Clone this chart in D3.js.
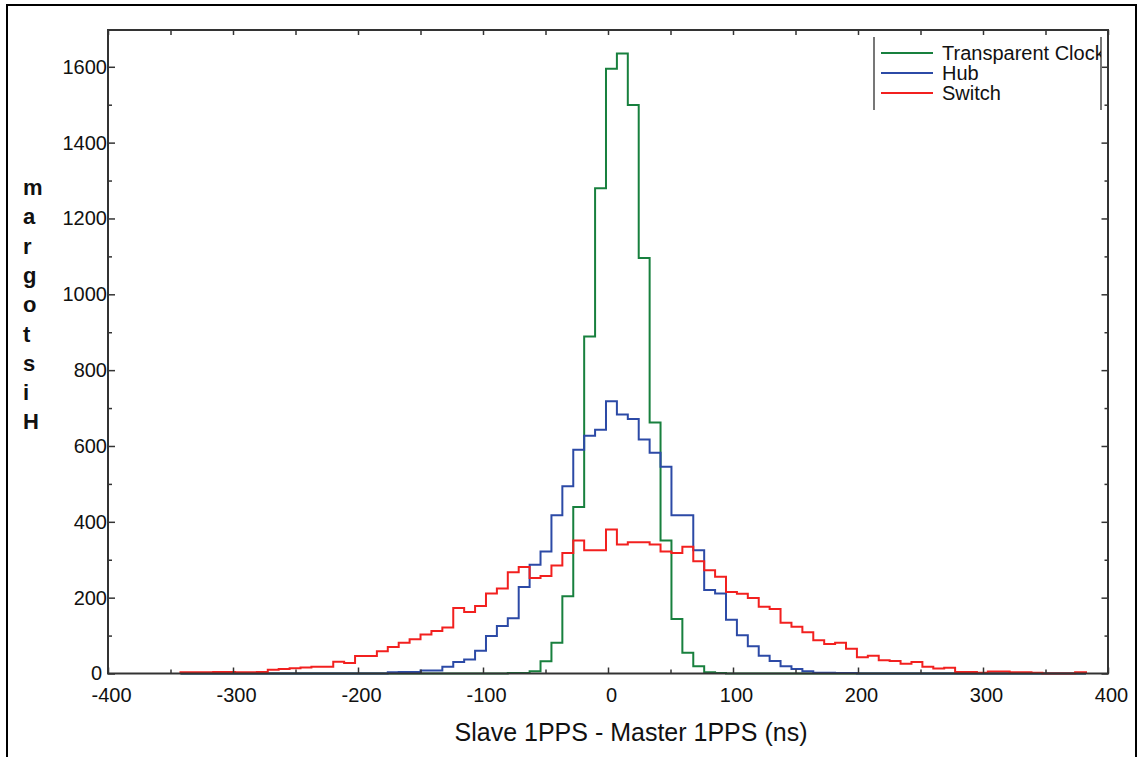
<!DOCTYPE html>
<html>
<head>
<meta charset="utf-8">
<script src="https://cdn.jsdelivr.net/npm/d3@7"></script>
<style>
  body { margin: 0; background: #fff; }
</style>
</head>
<body>
<svg id="hist" width="1141" height="757"></svg>
<script>
// histogram bins (ns) - the three series share the same bins
const binStart = -342.0;
const binWidth = 8.728;

// counts per bin
const clockCounts = [
  0, 0, 0, 0, 0, 0, 0, 0, 0, 0,
  0, 0, 0, 0, 0, 0, 0, 0, 0, 0,
  0, 0, 0, 0, 0, 0, 0, 0, 0, 0,
  1, 1, 6, 32, 81, 204, 439, 889, 1280, 1595,
  1635, 1499, 1096, 662, 351, 144, 55, 19, 3, 1,
  0, 0, 0, 0, 0, 0, 0, 0, 0, 0,
  0, 0, 0, 0, 0, 0, 0, 0, 0, 0,
  0, 0, 0, 0, 0, 0, 0, 0, 0, 0,
  0, 0, 0
];
const hubCounts = [
  0, 0, 0, 0, 0, 0, 0, 0, 0, 0,
  0, 0, 0, 0, 0, 0, 0, 0, 0, 3,
  4, 4, 8, 8, 18, 30, 37, 60, 99, 125,
  146, 228, 287, 322, 417, 494, 590, 627, 643, 718,
  683, 671, 617, 582, 545, 417, 417, 325, 220, 211,
  142, 101, 72, 47, 33, 19, 12, 6, 2, 2,
  1, 1, 0, 0, 0, 0, 0, 0, 0, 0,
  0, 0, 0, 0, 0, 0, 0, 0, 0, 0,
  0, 0, 0
];
const switchCounts = [
  3, 3, 3, 4, 4, 3, 3, 4, 10, 12,
  14, 16, 18, 18, 31, 28, 46, 46, 59, 70,
  81, 90, 103, 112, 121, 173, 162, 178, 211, 224,
  267, 281, 252, 257, 285, 318, 351, 325, 325, 380,
  340, 346, 346, 340, 322, 318, 334, 296, 272, 255,
  215, 210, 199, 176, 170, 134, 123, 109, 88, 78,
  81, 65, 43, 47, 35, 33, 26, 30, 18, 13,
  15, 4, 4, 2, 5, 5, 3, 3, 2, 0,
  0, 0, 3
];

const seriesNames = ["Transparent Clock", "Hub", "Switch"];
const seriesColors = ["#18803e", "#2c4aa6", "#f2201f"];

const xTicks = [-400, -300, -200, -100, 0, 100, 200, 300, 400];
const xMinorTicks = [-350, -250, -150, -50, 50, 150, 250, 350];
const yTicks = [0, 200, 400, 600, 800, 1000, 1200, 1400, 1600];
const yMinorTicks = [100, 300, 500, 700, 900, 1100, 1300, 1500];

const xTitle = "Slave 1PPS - Master 1PPS (ns)";
const yTitle = ["m", "a", "r", "g", "o", "t", "s", "i", "H"];

const svg = d3.select("#hist");
const fontName = "'Liberation Sans', Arial, sans-serif";

const plot = { left: 108, right: 1108, top: 30, bottom: 673.5 };

const x = d3.scaleLinear().domain([-400, 400]).range([plot.left, plot.right]);
const y = d3.scaleLinear().domain([0, 1697]).range([plot.bottom, plot.top]);

// plain hyphen like the original, not the unicode minus
const plainNum = d => String(d);

// outer frame (no bottom edge in the original)
svg.append("path")
  .attr("d", "M7,757 L7,5 L1136,5 L1136,757")
  .attr("fill", "none")
  .attr("stroke", "#000")
  .attr("stroke-width", 2);

// step outline of one histogram
const stepPoints = counts => {
  let pts = [[binStart, 0]];
  counts.forEach((c, i) => {
    pts.push([binStart + i * binWidth, c]);
    pts.push([binStart + (i + 1) * binWidth, c]);
  });
  pts.push([binStart + counts.length * binWidth, 0]);
  return pts;
};

const line = d3.line().x(d => x(d[0])).y(d => y(d[1]));

const allCounts = [clockCounts, hubCounts, switchCounts];
allCounts.forEach((counts, i) => {
  svg.append("path")
    .attr("d", line(stepPoints(counts)))
    .attr("fill", "none")
    .attr("stroke", seriesColors[i])
    .attr("stroke-width", 2);
});

// axes, ticks point inwards on all four sides
const styleAxis = g => {
  g.select(".domain").remove();
  g.selectAll(".tick line").attr("stroke", "#333").attr("stroke-width", 1.5);
  g.selectAll("text")
    .attr("font-family", fontName)
    .attr("font-size", 20)
    .attr("fill", "#111");
};

svg.append("g")
  .attr("transform", "translate(0," + plot.bottom + ")")
  .call(d3.axisBottom(x).tickValues(xTicks).tickSize(-6).tickPadding(14).tickFormat(plainNum))
  .call(styleAxis)
  .selectAll("text").attr("dx", 3);

svg.append("g")
  .attr("transform", "translate(0," + plot.bottom + ")")
  .call(d3.axisBottom(x).tickValues(xMinorTicks).tickSize(-4).tickFormat(""))
  .call(styleAxis);

svg.append("g")
  .attr("transform", "translate(0," + plot.top + ")")
  .call(d3.axisTop(x).tickValues(xTicks.concat(xMinorTicks)).tickSize(-5).tickFormat(""))
  .call(styleAxis);

const yAxis = svg.append("g")
  .attr("transform", "translate(" + plot.left + ",0)")
  .call(d3.axisLeft(y).tickValues(yTicks).tickSize(-7).tickPadding(1).tickFormat(plainNum))
  .call(styleAxis);
yAxis.selectAll(".tick text").filter(d => d === 0).attr("x", -6);

svg.append("g")
  .attr("transform", "translate(" + plot.left + ",0)")
  .call(d3.axisLeft(y).tickValues(yMinorTicks).tickSize(-4).tickFormat(""))
  .call(styleAxis);

svg.append("g")
  .attr("transform", "translate(" + plot.right + ",0)")
  .call(d3.axisRight(y).tickValues(yTicks).tickSize(-6.5).tickFormat(""))
  .call(styleAxis);

svg.append("g")
  .attr("transform", "translate(" + plot.right + ",0)")
  .call(d3.axisRight(y).tickValues(yMinorTicks).tickSize(-3.5).tickFormat(""))
  .call(styleAxis);

// plot box
svg.append("rect")
  .attr("x", plot.left)
  .attr("y", plot.top)
  .attr("width", plot.right - plot.left)
  .attr("height", plot.bottom - plot.top)
  .attr("fill", "none")
  .attr("stroke", "#333")
  .attr("stroke-width", 2);

// axis titles
svg.append("text")
  .attr("x", 631)
  .attr("y", 741)
  .attr("text-anchor", "middle")
  .attr("font-family", fontName)
  .attr("font-size", 25)
  .attr("fill", "#111")
  .text(xTitle);

svg.append("text")
  .attr("font-family", fontName)
  .attr("font-size", 22)
  .attr("font-weight", "bold")
  .attr("fill", "#111")
  .selectAll("tspan")
  .data(yTitle)
  .join("tspan")
  .attr("x", 23)
  .attr("y", (d, i) => 195 + i * 29.3)
  .text(d => d);

// legend: two grey side bars, text clipped on the right bar
const legend = svg.append("g");

svg.append("clipPath").attr("id", "legclip")
  .append("rect").attr("x", 874).attr("y", 30).attr("width", 227).attr("height", 90);

legend.append("line")
  .attr("x1", 874).attr("x2", 874).attr("y1", 37).attr("y2", 110)
  .attr("stroke", "#777").attr("stroke-width", 2);
legend.append("line")
  .attr("x1", 1101).attr("x2", 1101).attr("y1", 37).attr("y2", 110)
  .attr("stroke", "#777").attr("stroke-width", 2);

seriesNames.forEach((name, i) => {
  const ly = 53 + i * 20;
  legend.append("line")
    .attr("x1", 881).attr("x2", 933).attr("y1", ly).attr("y2", ly)
    .attr("stroke", seriesColors[i]).attr("stroke-width", 2);
  legend.append("text")
    .attr("x", 942)
    .attr("y", ly + 7)
    .attr("clip-path", "url(#legclip)")
    .attr("font-family", fontName)
    .attr("font-size", 20)
    .attr("fill", "#111")
    .text(name);
});
</script>
</body>
</html>
